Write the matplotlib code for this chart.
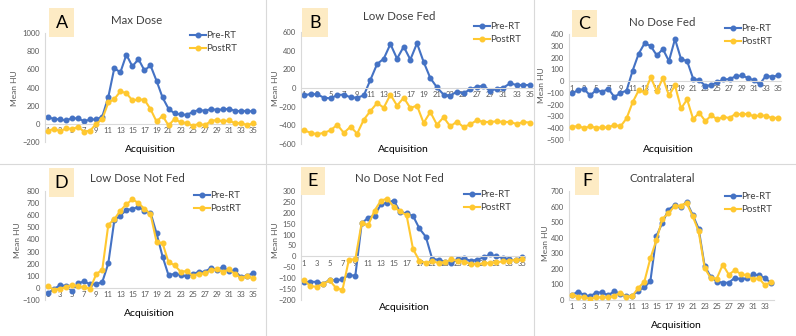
import matplotlib
matplotlib.use("Agg")
import matplotlib.pyplot as plt
from matplotlib.lines import Line2D
import numpy as np

plt.rcParams['font.family'] = ['Lato', 'DejaVu Sans']

W, H = 796, 336

# ---------------- data ----------------
acq35 = list(range(1, 36))
acq34 = list(range(1, 35))

A_pre = [70, 55, 48, 37, 62, 59, 29, 48, 48, 80, 294, 614, 566, 761, 632, 713, 588, 643, 474, 290,
         165, 114, 103, 99, 129, 154, 143, 162, 154, 158, 165, 143, 140, 143, 136]
A_post = [-77, -55, -80, -51, -55, -37, -85, -74, 0, 51, 235, 272, 357, 338, 257, 268, 265, 162, 26, 88,
          -18, 55, 15, 11, -22, 0, -15, 29, 44, 26, 37, 7, 11, -15, 4]

B_pre = [-79, -64, -68, -104, -111, -75, -71, -100, -104, -79, 89, 257, 314, 471, 314, 443, 304, 479, 279, 107,
         7, -71, -82, -39, -57, -14, 11, 25, -32, -7, 4, 50, 32, 32, 32]
B_post = [-454, -479, -496, -479, -454, -393, -482, -414, -489, -339, -246, -161, -211, -71, -189, -104, -214, -189,
          -375, -257, -393, -314, -411, -361, -418, -389, -346, -364, -364, -357, -364, -364, -386, -364, -371]

C_pre = [-105, -76, -68, -122, -76, -91, -65, -136, -99, -82, 88, 232, 323, 297, 218, 272, 170, 357, 187, 170,
         20, 8, -40, -34, -8, 14, 17, 40, 48, 28, 6, -25, 45, 37, 48]
C_post = [-388, -382, -399, -385, -396, -393, -393, -371, -385, -317, -181, -79, -93, 31, -85, 25, -122, -37,
          -232, -156, -323, -269, -340, -291, -325, -303, -314, -277, -283, -277, -300, -291, -294, -314, -311]

D_pre = [-43, -10, 23, 15, -23, 37, 54, 29, 32, 48, 202, 558, 597, 643, 652, 668, 635, 622, 451, 259,
         103, 117, 108, 95, 117, 130, 133, 163, 150, 169, 141, 144, 86, 100, 122]
D_post = [12, -15, -7, 7, 26, 12, 7, -7, 114, 150, 520, 567, 638, 690, 731, 701, 652, 610, 380, 369,
          210, 188, 133, 139, 100, 117, 119, 147, 152, 133, 152, 117, 81, 97, 78]

E_pre = [-119, -116, -117, -125, -108, -110, -105, -84, -90, 151, 178, 187, 239, 247, 256, 204, 197, 186, 128, 90,
         -12, -15, -26, -30, -14, -9, -21, -15, -5, 9, 0, -6, -14, -18, -3]
E_post = [-108, -137, -139, -126, -110, -145, -154, -15, -14, 154, 142, 210, 256, 265, 227, 206, 189, 34, -20, -30,
          -23, -30, -26, -14, -21, -24, -35, -35, -32, -29, -27, -23, -21, -15, -14]

F_pre = [32, 54, 32, 24, 47, 49, 30, 56, 41, 24, 28, 60, 81, 122, 411, 497, 580, 608, 595, 630,
         548, 458, 218, 150, 118, 111, 111, 143, 133, 139, 165, 158, 141, 109]
F_post = [34, 21, 17, 9, 17, 17, 17, 24, 47, 21, 26, 77, 118, 268, 385, 522, 557, 602, 606, 623,
          540, 441, 206, 141, 137, 227, 163, 191, 167, 158, 133, 141, 94, 118]

letters = ["A", "B", "C", "D", "E", "F"]
titles = ["Max Dose", "Low Dose Fed", "No Dose Fed", "Low Dose Not Fed", "No Dose Not Fed", "Contralateral"]
series_names = ["Pre-RT", "PostRT"]
y_ranges = [(-200, 1000, 200), (-600, 600, 200), (-500, 400, 100),
            (-100, 800, 100), (-200, 300, 50), (0, 700, 100)]

# ---------------- layout (pixels) ----------------
panels = [
    dict(x=acq35, pre=A_pre, post=A_post, xl=(48, 253), yp=(33, 142), title=(137, 20), badge=(49, 74, 8, 37),
         xlab=(150, 150), ylab=(15, 88), leg=(190, 31)),
    dict(x=acq35, pre=B_pre, post=B_post, xl=(304, 530), yp=(32, 144), title=(399, 17), badge=(302, 328, 8, 37),
         xlab=(403, 150), ylab=(275, 88), leg=(474, 22)),
    dict(x=acq35, pre=C_pre, post=C_post, xl=(572, 778), yp=(34, 140), title=(662, 22), badge=(572, 597, 10, 37),
         xlab=(668, 150), ylab=(542, 85), leg=(725, 24)),
    dict(x=acq35, pre=D_pre, post=D_post, xl=(48, 253), yp=(191, 300), title=(137, 178), badge=(49, 74, 168, 197),
         xlab=(149, 314), ylab=(18, 240), leg=(194, 191)),
    dict(x=acq35, pre=E_pre, post=E_post, xl=(304, 522), yp=(191, 300), title=(399, 178), badge=(301, 325, 167, 195),
         xlab=(404, 307), ylab=(275, 240), leg=(464, 190)),
    dict(x=acq34, pre=F_pre, post=F_post, xl=(572, 771), yp=(191, 300), title=(662, 178), badge=(575, 599, 167, 195),
         xlab=(676, 325), ylab=(545, 243), leg=(725, 192)),
]

BLUE = "#4472C4"
GOLD = "#FFC830"
GRAY = "#595959"
LINE = "#D9D9D9"
BADGE = "#FDEBC4"

fig = plt.figure(figsize=(W / 100, H / 100), dpi=100)
fig.patch.set_facecolor("white")

# separators
fig.add_artist(Line2D([265.5 / W, 265.5 / W], [0, 1], color=LINE, lw=0.8))
fig.add_artist(Line2D([534 / W, 534 / W], [0, 1], color=LINE, lw=0.8))
fig.add_artist(Line2D([0, 1], [1 - 164.5 / H, 1 - 164.5 / H], color=LINE, lw=0.8))


def fx(px):
    return px / W


def fy(py):
    return 1 - py / H


for i, p in enumerate(panels):
    n = len(p["x"])
    x1, xn = p["xl"]
    s = (xn - x1) / (n - 1)
    left, right = x1 - 0.5 * s, xn + 0.5 * s
    top, bot = p["yp"]
    ax = fig.add_axes([fx(left), fy(bot), (right - left) / W, (bot - top) / H])
    ax.set_facecolor("none")
    ax.plot(p["x"], p["pre"], color=BLUE, lw=1.5, marker="o", ms=3.3, label=series_names[0], zorder=2)
    ax.plot(p["x"], p["post"], color=GOLD, lw=1.5, marker="o", ms=3.3, label=series_names[1], zorder=3)
    lo, hi, st = y_ranges[i]
    ax.set_xlim(0.5, n + 0.5)
    ax.set_ylim(lo, hi)
    ax.set_yticks(np.arange(lo, hi + st / 2, st))
    ax.set_xticks(list(range(1, n + 1, 2)))
    for sp in ["top", "right"]:
        ax.spines[sp].set_visible(False)
    ax.spines["bottom"].set_position(("data", 0))
    ax.spines["bottom"].set_color(LINE)
    ax.spines["left"].set_color(LINE)
    ax.spines["bottom"].set_linewidth(0.8)
    ax.spines["left"].set_linewidth(0.8)
    ax.tick_params(axis="both", length=0, labelsize=5.5, labelcolor=GRAY)
    ax.tick_params(axis="y", pad=3.5)
    ax.tick_params(axis="x", pad=2.5)

    leg = ax.legend(loc="upper left", bbox_to_anchor=(fx(p["leg"][0]), fy(p["leg"][1])),
                    bbox_transform=fig.transFigure, frameon=False, fontsize=7, borderpad=0,
                    borderaxespad=0, handlelength=1.6, handletextpad=0.1, labelspacing=0.45)
    for t in leg.get_texts():
        t.set_color("#404040")

    # badge
    bx0, bx1, by0, by1 = p["badge"]
    fig.patches.append(plt.Rectangle((fx(bx0), fy(by1)), (bx1 - bx0) / W, (by1 - by0) / H,
                                     transform=fig.transFigure, facecolor=BADGE, edgecolor="none", zorder=0))
    fig.text(fx((bx0 + bx1) / 2), fy((by0 + by1) / 2 + 0.5), letters[i], fontsize=13, ha="center", va="center",
             color="black")
    fig.text(fx(p["title"][0]), fy(p["title"][1]), titles[i], fontsize=8.3, ha="center", va="center", color="#404040")
    fig.text(fx(p["xlab"][0]), fy(p["xlab"][1]), "Acquisition", fontsize=7.5, ha="center", va="center", color="black")
    fig.text(fx(p["ylab"][0]), fy(p["ylab"][1]), "Mean HU", fontsize=6, ha="center", va="center", color=GRAY,
             rotation=90)

fig.savefig("out.png", dpi=100)
